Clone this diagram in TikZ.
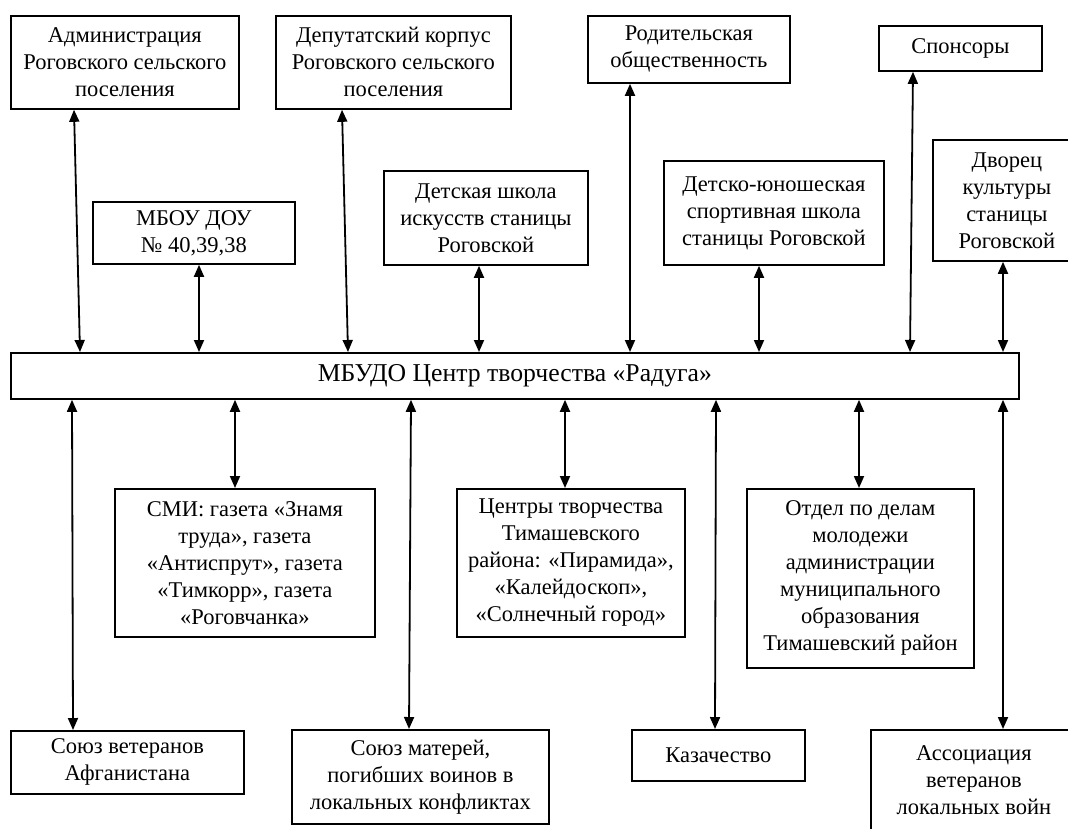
\documentclass[tikz,border=0pt]{standalone}
\usepackage{fontspec}
\setmainfont{Liberation Serif}
\usetikzlibrary{arrows.meta}

\tikzset{
  box/.style={draw, line width=1.8pt, anchor=north west, align=center, inner sep=2pt,
    font=\fontsize{22.5}{27}\selectfont},
  link/.style={line width=1.8pt, {Triangle[length=12pt,width=10pt]}-{Triangle[length=12pt,width=10pt]}},
}

\begin{document}
\begin{tikzpicture}[x=1pt,y=1pt,yscale=-1,xscale=1]
\useasboundingbox (0,0) rectangle (1068,828);

% upper row
\node[box, minimum width=228pt, minimum height=93pt] (admin) at (10,15) {Администрация\\Роговского сельского\\поселения};
\node[box, minimum width=235pt, minimum height=93pt] (deputy) at (275,15) {Депутатский корпус\\Роговского сельского\\поселения};
\node[box, minimum width=202pt, minimum height=67pt] (parents) at (587,15) {Родительская\\общественность};
\node[box, minimum width=163pt, minimum height=45pt] (sponsors) at (878,25) {Спонсоры};
\node[box, minimum width=202pt, minimum height=62pt] (mbou) at (92,201) {МБОУ ДОУ\\№ 40,39,38};
\node[box, minimum width=204pt, minimum height=94pt] (artschool) at (383,170) {Детская школа\\искусств станицы\\Роговской};
\node[box, minimum width=220pt, minimum height=104pt] (sportschool) at (663,160) {Детско-юношеская\\спортивная школа\\станицы Роговской};
\node[box, minimum width=148pt, minimum height=121pt] (palace) at (932,139) {Дворец\\культуры\\станицы\\Роговской};

% centre
\node[box, minimum width=1008pt, minimum height=46pt, font=\fontsize{25.7}{30}\selectfont] (main) at (10,352) {МБУДО Центр творчества «Радуга»};

% middle row
\node[box, minimum width=260pt, minimum height=148pt] (smi) at (114,488) {СМИ: газета «Знамя\\труда», газета\\«Антиспрут», газета\\«Тимкорр», газета\\«Роговчанка»};
\node[box, minimum width=228pt, minimum height=148pt] (centres) at (456,488) {Центры творчества\\Тимашевского\\района: «Пирамида»,\\«Калейдоскоп»,\\«Солнечный город»};
\node[box, minimum width=227pt, minimum height=179pt] (otdel) at (746,488) {Отдел по делам\\молодежи\\администрации\\муниципального\\образования\\Тимашевский район};

% lower row
\node[box, minimum width=233pt, minimum height=63pt] (afghan) at (10,730) {Союз ветеранов\\Афганистана};
\node[box, minimum width=257pt, minimum height=94pt] (mothers) at (291,729) {Союз матерей,\\погибших воинов в\\локальных конфликтах};
\node[box, minimum width=173pt, minimum height=51pt] (cossacks) at (631,729) {Казачество};
\node[box, minimum width=206pt, minimum height=101pt] (assoc) at (870,729) {Ассоциация\\ветеранов\\локальных войн};

% links up
\draw[link] (admin.south -| 74,0) -- (main.north -| 80,0);
\draw[link] (mbou.south -| 199,0) -- (main.north -| 199,0);
\draw[link] (deputy.south -| 342,0) -- (main.north -| 348,0);
\draw[link] (artschool.south -| 479,0) -- (main.north -| 479,0);
\draw[link] (parents.south -| 630,0) -- (main.north -| 630,0);
\draw[link] (sportschool.south -| 759,0) -- (main.north -| 759,0);
\draw[link] (sponsors.south -| 913,0) -- (main.north -| 910,0);
\draw[link] (palace.south -| 1003,0) -- (main.north -| 1003,0);

% links down
\draw[link] (main.south -| 72,0) -- (afghan.north -| 73,0);
\draw[link] (main.south -| 235,0) -- (smi.north -| 235,0);
\draw[link] (main.south -| 411,0) -- (mothers.north -| 409,0);
\draw[link] (main.south -| 565,0) -- (centres.north -| 565,0);
\draw[link] (main.south -| 716,0) -- (cossacks.north -| 715,0);
\draw[link] (main.south -| 859,0) -- (otdel.north -| 859,0);
\draw[link] (main.south -| 1003,0) -- (assoc.north -| 1003,0);

\end{tikzpicture}
\end{document}
